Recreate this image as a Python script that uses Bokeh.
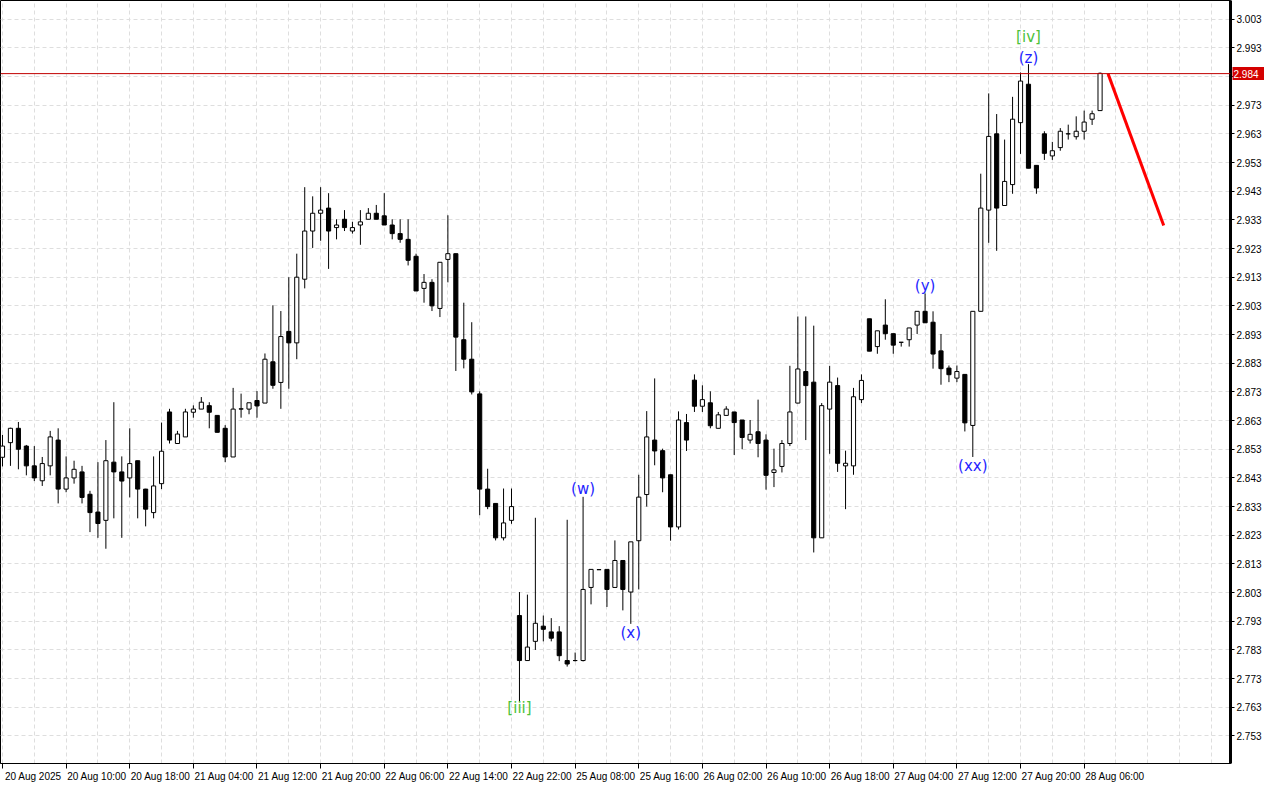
from bokeh.plotting import figure
from bokeh.models import Range1d, FixedTicker, Span, PrintfTickFormatter, LinearAxis
from bokeh.core.properties import value
from bokeh.embed import file_html
from bokeh.resources import INLINE

# ---- hourly OHLC (bar index 0..138) ----
opens = [2.8502, 2.8553, 2.8603, 2.8541, 2.8472, 2.8420, 2.8472, 2.8562, 2.8391, 2.8430,
         2.8451, 2.8373, 2.8311, 2.8282, 2.8485, 2.8451, 2.8430, 2.8490, 2.8391, 2.8309,
         2.8410, 2.8660, 2.8550, 2.8573, 2.8659, 2.8670, 2.8682, 2.8648, 2.8603, 2.8503,
         2.8670, 2.8670, 2.8700, 2.8691, 2.8835, 2.8763, 2.8941, 2.8901, 2.9123, 2.9291,
         2.9353, 2.9371, 2.9303, 2.9332, 2.9291, 2.9312, 2.9332, 2.9353, 2.9344, 2.9312,
         2.9282, 2.9262, 2.9203, 2.9091, 2.9112, 2.9021, 2.9192, 2.9212, 2.8912, 2.8844,
         2.8723, 2.8391, 2.8341, 2.8221, 2.8282, 2.7950, 2.7793, 2.7860, 2.7913, 2.7893,
         2.7893, 2.7793, 2.7793, 2.7793, 2.8048, 2.8110, 2.8111, 2.8048, 2.8142, 2.8032,
         2.8211, 2.8372, 2.8562, 2.8525, 2.8441, 2.8259, 2.8623, 2.8771, 2.8680, 2.8692,
         2.8603, 2.8648, 2.8660, 2.8632, 2.8562, 2.8591, 2.8562, 2.8449, 2.8470, 2.8550,
         2.8691, 2.8801, 2.8764, 2.8221, 2.8670, 2.8752, 2.8472, 2.8472, 2.8703, 2.8985,
         2.8888, 2.8963, 2.8933, 2.8903, 2.8912, 2.8963, 2.9011, 2.8973, 2.8873, 2.8813,
         2.8778, 2.8791, 2.8613, 2.9011, 2.9364, 2.9630, 2.9380, 2.9453, 2.9669, 2.9803,
         2.9520, 2.9630, 2.9553, 2.9582, 2.9630, 2.9620, 2.9639, 2.9681, 2.9711]
highs = [2.8580, 2.8605, 2.8625, 2.8545, 2.8541, 2.8503, 2.8594, 2.8603, 2.8505, 2.8490,
         2.8472, 2.8385, 2.8485, 2.8562, 2.8694, 2.8505, 2.8603, 2.8490, 2.8392, 2.8505,
         2.8623, 2.8671, 2.8594, 2.8671, 2.8683, 2.8712, 2.8694, 2.8648, 2.8614, 2.8744,
         2.8724, 2.8692, 2.8733, 2.8864, 2.9032, 2.9012, 2.9130, 2.9212, 2.9444, 2.9412,
         2.9444, 2.9423, 2.9332, 2.9364, 2.9323, 2.9364, 2.9371, 2.9382, 2.9423, 2.9332,
         2.9332, 2.9332, 2.9212, 2.9141, 2.9123, 2.9182, 2.9346, 2.9212, 2.9041, 2.8973,
         2.8732, 2.8462, 2.8341, 2.8393, 2.8393, 2.8032, 2.8023, 2.8291, 2.7950, 2.7941,
         2.7913, 2.8284, 2.7821, 2.8364, 2.8111, 2.8110, 2.8111, 2.8212, 2.8142, 2.8207,
         2.8441, 2.8663, 2.8777, 2.8532, 2.8441, 2.8662, 2.8653, 2.8791, 2.8753, 2.8732,
         2.8660, 2.8680, 2.8660, 2.8632, 2.8632, 2.8703, 2.8582, 2.8532, 2.8562, 2.8821,
         2.8993, 2.8993, 2.8961, 2.8691, 2.8821, 2.8780, 2.8525, 2.8744, 2.8791, 2.8985,
         2.8943, 2.9053, 2.8933, 2.8903, 2.8953, 2.9011, 2.9073, 2.9011, 2.8932, 2.8822,
         2.8822, 2.8791, 2.9011, 2.9491, 2.9771, 2.9699, 2.9610, 2.9759, 2.9844, 2.9873,
         2.9520, 2.9639, 2.9602, 2.9650, 2.9662, 2.9691, 2.9711, 2.9711, 2.9844]
lows = [2.8470, 2.8472, 2.8460, 2.8439, 2.8419, 2.8402, 2.8439, 2.8341, 2.8380, 2.8410,
        2.8341, 2.8241, 2.8221, 2.8183, 2.8289, 2.8221, 2.8362, 2.8289, 2.8261, 2.8289,
        2.8391, 2.8550, 2.8550, 2.8573, 2.8640, 2.8670, 2.8603, 2.8589, 2.8485, 2.8503,
        2.8640, 2.8652, 2.8640, 2.8691, 2.8741, 2.8671, 2.8741, 2.8844, 2.9091, 2.9232,
        2.9257, 2.9159, 2.9262, 2.9291, 2.9282, 2.9243, 2.9332, 2.9332, 2.9312, 2.9262,
        2.9250, 2.9171, 2.9082, 2.9041, 2.9012, 2.8991, 2.9112, 2.8803, 2.8812, 2.8721,
        2.8300, 2.8321, 2.8212, 2.8212, 2.8270, 2.7650, 2.7793, 2.7830, 2.7860, 2.7860,
        2.7791, 2.7772, 2.7790, 2.7790, 2.7989, 2.8110, 2.7980, 2.8048, 2.7968, 2.7921,
        2.8041, 2.8330, 2.8474, 2.8380, 2.8211, 2.8250, 2.8524, 2.8660, 2.8660, 2.8603,
        2.8603, 2.8648, 2.8510, 2.8530, 2.8550, 2.8502, 2.8389, 2.8398, 2.8449, 2.8541,
        2.8690, 2.8562, 2.8170, 2.8221, 2.8514, 2.8451, 2.8321, 2.8441, 2.8691, 2.8872,
        2.8863, 2.8912, 2.8863, 2.8888, 2.8888, 2.8932, 2.8971, 2.8811, 2.8755, 2.8764,
        2.8764, 2.8592, 2.8503, 2.9011, 2.9250, 2.9222, 2.9380, 2.9421, 2.9560, 2.9510,
        2.9421, 2.9539, 2.9539, 2.9571, 2.9610, 2.9610, 2.9610, 2.9661, 2.9711]
closes = [2.8541, 2.8603, 2.8530, 2.8472, 2.8430, 2.8480, 2.8573, 2.8391, 2.8430, 2.8460,
          2.8362, 2.8309, 2.8271, 2.8490, 2.8451, 2.8419, 2.8480, 2.8391, 2.8321, 2.8402,
          2.8523, 2.8562, 2.8583, 2.8660, 2.8670, 2.8694, 2.8659, 2.8589, 2.8503, 2.8670,
          2.8671, 2.8692, 2.8681, 2.8844, 2.8753, 2.8923, 2.8901, 2.9130, 2.9291, 2.9353,
          2.9364, 2.9291, 2.9312, 2.9303, 2.9303, 2.9323, 2.9353, 2.9332, 2.9312, 2.9282,
          2.9262, 2.9189, 2.9082, 2.9112, 2.9030, 2.9182, 2.9212, 2.8921, 2.8844, 2.8730,
          2.8391, 2.8330, 2.8221, 2.8273, 2.8330, 2.7793, 2.7840, 2.7923, 2.7902, 2.7871,
          2.7810, 2.7781, 2.7793, 2.8041, 2.8111, 2.8110, 2.8041, 2.8142, 2.8041, 2.8207,
          2.8363, 2.8573, 2.8524, 2.8430, 2.8259, 2.8632, 2.8562, 2.8680, 2.8703, 2.8612,
          2.8650, 2.8670, 2.8623, 2.8571, 2.8582, 2.8550, 2.8439, 2.8458, 2.8550, 2.8660,
          2.8810, 2.8752, 2.8221, 2.8682, 2.8764, 2.8481, 2.8481, 2.8713, 2.8770, 2.8872,
          2.8943, 2.8933, 2.8893, 2.8903, 2.8953, 2.9011, 2.8971, 2.8862, 2.8811, 2.8790,
          2.8801, 2.8622, 2.9011, 2.9371, 2.9621, 2.9371, 2.9464, 2.9681, 2.9814, 2.9510,
          2.9441, 2.9562, 2.9571, 2.9639, 2.9630, 2.9639, 2.9671, 2.9700, 2.9841]

# ---- time axis labels (every 8 bars) ----
time_tick_idx = [0, 8, 16, 24, 32, 40, 48, 56, 64, 72, 80, 88, 96, 104, 112, 120, 128, 136]
time_tick_labels = ["20 Aug 2025", "20 Aug 10:00", "20 Aug 18:00", "21 Aug 04:00",
                    "21 Aug 12:00", "21 Aug 20:00", "22 Aug 06:00", "22 Aug 14:00",
                    "22 Aug 22:00", "25 Aug 08:00", "25 Aug 16:00", "26 Aug 02:00",
                    "26 Aug 10:00", "26 Aug 18:00", "27 Aug 04:00", "27 Aug 12:00",
                    "27 Aug 20:00", "28 Aug 06:00"]
vgrid_idx = [0, 4, 8, 12, 16, 20, 24, 28, 32, 36, 40, 44, 48, 52, 56, 60, 64, 68, 72, 76,
             80, 84, 88, 92, 96, 100, 104, 108, 112, 116, 120, 124, 128, 132, 136, 140,
             144, 148, 152]
price_ticks = [2.753, 2.763, 2.773, 2.783, 2.793, 2.803, 2.813, 2.823, 2.833, 2.843,
               2.853, 2.863, 2.873, 2.883, 2.893, 2.903, 2.913, 2.923, 2.933, 2.943,
               2.953, 2.963, 2.973, 2.983, 2.993, 3.003]

current_price = 2.984

# ---- wave labels ----
wave_idx = [65, 73, 79, 116, 122, 129, 129]
wave_price = [2.7626, 2.8393, 2.7890, 2.9098, 2.8472, 2.9896, 2.9968]
wave_text = ["[iii]", "(w)", "(x)", "(y)", "(xx)", "(z)", "[iv]"]
wave_color = ["#4cc23a", "#1f1fff", "#1f1fff", "#1f1fff", "#1f1fff", "#1f1fff", "#4cc23a"]

# ---- forecast line ----
fc_idx = [139, 146]
fc_price = [2.984, 2.931]

X_START, X_END = -0.25, 154.4
LABEL_SHIFT = 3.875   # labels sit to the right of their tick mark (MT style)

idx = list(range(len(opens)))
up_x = [i for i in idx if closes[i] >= opens[i]]
up_top = [closes[i] for i in up_x]
up_bot = [opens[i] for i in up_x]
dn_x = [i for i in idx if closes[i] < opens[i]]
dn_top = [opens[i] for i in dn_x]
dn_bot = [closes[i] for i in dn_x]

p = figure(width=1264, height=784,
           x_range=Range1d(X_START, X_END), y_range=Range1d(2.7434, 3.0095),
           y_axis_location="right", output_backend="svg", toolbar_location=None,
           min_border_left=0, min_border_top=0, min_border_right=0, min_border_bottom=0,
           background_fill_color="white", border_fill_color="white",
           outline_line_color="black", outline_line_width=1)

# grids
p.xgrid.ticker = FixedTicker(ticks=vgrid_idx)
p.ygrid.ticker = FixedTicker(ticks=price_ticks)
for g in (p.xgrid, p.ygrid):
    g.grid_line_color = "#dedede"
    g.grid_line_dash = "4 3"
    g.grid_line_width = 1

# x axis: tick marks as minor ticks at the bar, labels shifted to the right
label_pos = [t + LABEL_SHIFT for t in time_tick_idx]
xa = p.xaxis[0]
xa.ticker = FixedTicker(ticks=label_pos, minor_ticks=time_tick_idx)
xa.major_label_overrides = {k: v for k, v in zip(label_pos, time_tick_labels)}
xa.major_label_text_font = "Liberation Sans"
xa.major_label_text_font_size = "10px"
xa.major_label_text_color = "black"
xa.major_label_standoff = 2
xa.major_tick_line_color = None
xa.major_tick_out = 0
xa.major_tick_in = 0
xa.minor_tick_line_color = "black"
xa.minor_tick_out = 5
xa.minor_tick_in = 0
xa.axis_line_color = "black"

# y axis
ya = p.yaxis[0]
ya.ticker = FixedTicker(ticks=price_ticks)
ya.formatter = PrintfTickFormatter(format="%.3f")
ya.major_label_text_font = "Liberation Sans"
ya.major_label_text_font_size = "10px"
ya.major_label_text_color = "black"
ya.major_label_standoff = 2
ya.major_tick_out = 4
ya.major_tick_in = 0
ya.minor_tick_line_color = None
ya.axis_line_color = "black"
ya.axis_line_width = 3
ya.major_tick_line_color = "black"

# current price tag: a second right axis whose (inward) tick is the red box
tag = LinearAxis(ticker=FixedTicker(ticks=[current_price]),
                 formatter=PrintfTickFormatter(format="%.3f"),
                 axis_line_color=None, minor_tick_line_color=None,
                 major_tick_line_color="#d40000", major_tick_line_width=13,
                 major_tick_line_cap="butt", major_tick_out=0, major_tick_in=32,
                 major_label_standoff=-31, major_label_text_color="white",
                 major_label_text_font="Liberation Sans",
                 major_label_text_font_size="10px")
p.add_layout(tag, "right")

# current price line
p.add_layout(Span(location=current_price, dimension="width",
                  line_color="#c00000", line_width=1))

# candles
p.segment(x0=idx, y0=lows, x1=idx, y1=highs, line_color="black", line_width=1)
p.vbar(x=up_x, top=up_top, bottom=up_bot, width=0.52,
       fill_color="white", line_color="black", line_width=1)
p.vbar(x=dn_x, top=dn_top, bottom=dn_bot, width=0.52,
       fill_color="black", line_color="black", line_width=1)

# forecast line
p.line(fc_idx, fc_price, line_color="#ff0000", line_width=3)

# wave labels
p.text(x=wave_idx, y=wave_price, text=wave_text, text_color=wave_color,
       text_align="center", text_baseline="middle",
       text_font=value("DejaVu Sans"), text_font_size="15px")

open("out.html", "w").write(file_html(p, INLINE))
